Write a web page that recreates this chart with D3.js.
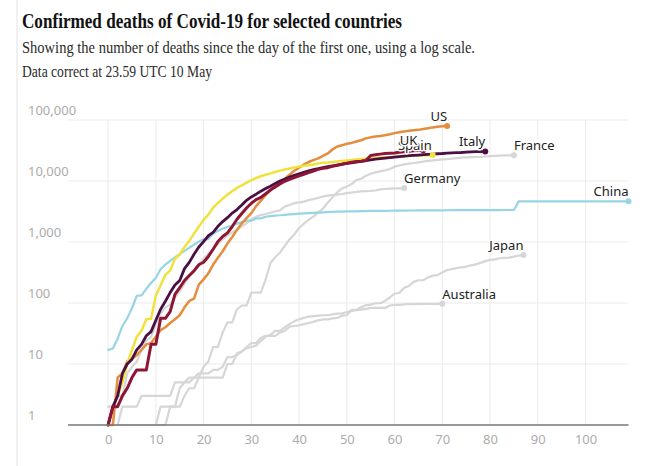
<!DOCTYPE html>
<html><head><meta charset="utf-8">
<script src="https://cdn.jsdelivr.net/npm/d3@7/dist/d3.min.js"></script>
<style>body{margin:0;background:#fff}svg{display:block}</style>
</head><body>
<svg id="chart" width="672" height="466"></svg>
<script>
// ---- DATA: cumulative deaths per day since the first death ----
const franceDeaths = [1,1,1,1,1,1,1,1,1,1,1,2,2,2,2,
  2,3,4,4,6,9,11,19,19,33,48,48,79,91,91,148,148,148,243,450,562,674,860,1100,1331,1696,1995,2314,2606,3024,3523,
  4403,5387,6507,7560,8078,8911,10328,10869,12210,13197,13832,14393,14967,15729,17167,17920,18681,19323,19718,20265,20796,21340,21856,22245,22614,22856,23293,23660,24087,24376,
  24594,24760,24895,25201,25531,25809,25987,26230,26310,26380];
const germanyDeaths = [2,2,3,3,7,9,11,17,24,28,44,67,84,94,123,157,206,267,342,433,533,645,775,
  920,1107,1275,1444,1584,1810,2016,2349,2607,2767,2871,3022,3194,3294,3804,4052,4352,4459,4586,4862,5033,5279,5575,5760,5877,5976,6126,6314,6467,6623,
  6736,6812,6866,6993,7275,7392,7510,7549,7569,7661];
const japanDeaths = [1,1,1,1,1,1,1,1,1,1,1,1,1,2,2,4,5,
  5,6,6,6,6,6,6,6,10,10,15,16,19,22,22,27,29,29,29,33,35,41,42,43,45,47,49,52,54,54,56,
  57,62,63,77,77,85,92,94,99,99,108,123,143,146,178,190,222,236,236,263,281,287,317,348,360,372,385,395,415,430,
  455,486,510,520,541,551,556,576,600,613];
const australiaDeaths = [1,1,1,2,2,2,2,3,3,3,3,3,3,3,5,5,5,6,6,7,7,7,8,8,9,13,13,14,16,18,19,
  20,24,28,30,35,35,40,45,50,54,57,60,61,62,63,63,65,67,67,71,74,76,78,80,83,83,83,83,91,93,
  93,95,96,96,97,97,97,97,97,97];
const chinaDeaths = [17,18,26,42,56,82,131,133,171,213,
  259,361,425,490,562,632,717,804,904,1011,1111,1116,1368,1520,1662,1765,1863,2002,2114,2236,2236,2441,2443,2593,2663,2715,2744,2788,2835,
  2870,2912,2943,2981,3013,3042,3070,3097,3120,3136,3158,3169,3176,3189,3199,3213,3226,3237,3245,3249,3253,3259,3274,3274,3281,3285,3291,3296,3299,3304,3308,
  3309,3316,3322,3326,3330,3331,3333,3335,3336,3339,3340,3343,3343,3345,3346,3346,4636,4636,4636,4636,4636,4636,4636,4636,4637,4637,4637,4637,4637,4637,
  4637,4637,4637,4637,4637,4637,4637,4637,4637,4637];
const usDeaths = [1,1,6,7,11,12,14,17,21,22,28,36,40,47,54,63,85,108,118,200,244,307,427,552,706,942,1209,1581,2026,2467,2978,3873,
  4757,5926,7087,8407,9619,10783,12722,14695,16478,18586,20463,22020,23529,25832,28325,32916,36773,38664,40661,42094,44444,46622,49954,51949,53755,54881,56259,58355,60967,62996,
  64943,66369,67682,68922,71064,73455,75662,77180,78795,79526];
const spainDeaths = [1,2,3,5,10,17,28,35,54,55,133,195,289,342,533,623,830,1043,1375,1772,2311,2808,3647,4365,5138,5982,6803,7716,8464,
  9387,10348,11198,11947,12641,13341,14045,14792,15447,16081,16606,17209,17756,18056,18708,19315,20002,20043,20453,20852,21282,21717,22157,22524,22902,23190,23521,23822,24275,24543,
  24543,25100,25264,25428,25613,25857,26070,26299,26478,26621];
const italyDeaths = [1,2,3,7,10,12,17,21,29,
  34,52,79,107,148,197,233,366,463,631,827,1016,1266,1441,1809,2158,2503,2978,3405,4032,4825,5476,6077,6820,7503,8215,9134,10023,10779,11591,12428,
  13155,13915,14681,15362,15887,16523,17127,17669,18279,18849,19468,19899,20465,21067,21645,22170,22745,23227,23660,24114,24648,25085,25549,25969,26384,26644,26977,27359,27682,27967,
  28236,28710,28884,29079,29315,29684,29958,30201,30395,30560];
const ukDeaths = [1,2,2,3,4,6,8,8,8,21,21,56,56,72,138,178,234,282,336,423,466,580,761,1021,1231,1411,1793,
  2357,2926,3611,4320,4943,5385,6171,7111,7993,8974,9892,10629,11347,12129,12894,13759,14607,15498,16095,16550,17378,18151,18791,19567,20381,20794,21160,21745,26166,26842,
  27583,28205,28520,28809,29501,30150,30689,31316,31662,31930];

const countryNames = ["France","Germany","Japan","Australia","China","US","Spain","Italy","UK"];
const countryValues = [franceDeaths,germanyDeaths,japanDeaths,australiaDeaths,chinaDeaths,usDeaths,spainDeaths,italyDeaths,ukDeaths];

const xTickValues = [0,10,20,30,40,50,60,70,80,90,100];
const yTickValues = [1,10,100,1000,10000,100000];
const yTickLabels = ["1","10","100","1,000","10,000","100,000"];

const titleText = "Confirmed deaths of Covid-19 for selected countries";
const subtitleLines = ["Showing the number of deaths since the day of the first one, using a log scale.",
                       "Data correct at 23.59 UTC 10 May"];

// ---- STYLE ----
const styles = {
  France:   {color:"#d6d6d6", width:2.2, anchor:"start", dx:0},
  Germany:  {color:"#d6d6d6", width:2.2, anchor:"start", dx:0},
  Japan:    {color:"#d6d6d6", width:2.2, anchor:"end",   dx:0},
  Australia:{color:"#d6d6d6", width:2.2, anchor:"start", dx:0},
  China:    {color:"#97d4e4", width:2.2, anchor:"end",   dx:0},
  US:       {color:"#e38d3d", width:2.5, anchor:"end",   dx:0},
  Spain:    {color:"#f0e23c", width:2.5, anchor:"end",   dx:-1},
  Italy:    {color:"#4b0f43", width:2.8, anchor:"end",   dx:0},
  UK:       {color:"#8d1636", width:3,   anchor:"end",   dx:-6}
};

const svg = d3.select("#chart");
svg.append("rect").attr("width",672).attr("height",466).attr("fill","#fff");

// left border rule
svg.append("line").attr("x1",17).attr("x2",17).attr("y1",0).attr("y2",466)
  .attr("stroke","#e2e2e2").attr("stroke-width",1);

// title & subtitle
svg.append("text").attr("x",22).attr("y",27.5).text(titleText)
  .attr("font-family","'Liberation Serif', serif").attr("font-weight","bold")
  .attr("font-size",21).attr("fill","#121212")
  .attr("textLength",380).attr("lengthAdjust","spacingAndGlyphs");
svg.append("text").attr("x",22).attr("y",53).text(subtitleLines[0])
  .attr("font-family","'Liberation Serif', serif").attr("font-size",17).attr("fill","#2a2a2a")
  .attr("textLength",453).attr("lengthAdjust","spacingAndGlyphs");
svg.append("text").attr("x",22).attr("y",76.5).text(subtitleLines[1])
  .attr("font-family","'Liberation Serif', serif").attr("font-size",17).attr("fill","#2a2a2a")
  .attr("textLength",190).attr("lengthAdjust","spacingAndGlyphs");

// scales
const x = d3.scaleLinear().domain([-8.4, 109]).range([68, 628.5]);
const y = d3.scaleLog().domain([1, 100000]).range([425, 120]);

// grid
const grid = svg.append("g");
grid.selectAll("line.v").data(xTickValues).join("line")
  .attr("x1",d=>x(d)).attr("x2",d=>x(d)).attr("y1",y(100000)).attr("y2",y(1))
  .attr("stroke","#ebebeb").attr("stroke-width",1);
grid.selectAll("line.h").data(yTickValues.slice(1)).join("line")
  .attr("x1",x.range()[0]).attr("x2",x.range()[1]).attr("y1",d=>y(d)).attr("y2",d=>y(d))
  .attr("stroke","#ebebeb").attr("stroke-width",1);

// y labels
svg.append("g").selectAll("text").data(yTickValues).join("text")
  .attr("x",28).attr("y",d=>y(d)-5)
  .text((d,i)=>yTickLabels[i])
  .attr("font-family","'Noto Sans', sans-serif").attr("font-size",13).attr("fill","#acacac");

// x axis
const xAxis = svg.append("g").attr("transform","translate(0,425)")
  .call(d3.axisBottom(x).tickValues(xTickValues).tickSize(0).tickPadding(9.3).tickFormat(d3.format("d")));
xAxis.select(".domain").remove();
xAxis.selectAll("text").attr("font-family","'Noto Sans', sans-serif").attr("font-size",13).attr("fill","#acacac");

// lines
const line = d3.line().x((d,i)=>x(i)).y(d=>y(Math.max(1,d)));
const series = countryNames.map((n,i)=>({name:n, values:countryValues[i]}));

const lines = svg.append("g");
series.forEach(s=>{
  const st = styles[s.name];
  lines.append("path").datum(s.values).attr("d",line)
    .attr("fill","none").attr("stroke",st.color).attr("stroke-width",st.width)
    .attr("stroke-linejoin","round").attr("stroke-linecap","round");
});

// axis line on top
svg.append("line").attr("x1",x.range()[0]).attr("x2",x.range()[1]).attr("y1",y(1)).attr("y2",y(1))
  .attr("stroke","#777").attr("stroke-width",1.5);

// end dots
series.forEach(s=>{
  const st = styles[s.name];
  const last = s.values.length-1;
  lines.append("circle").attr("cx",x(last)).attr("cy",y(s.values[last])).attr("r",3)
    .attr("fill",st.color);
});

// labels (UK sits over Spain, as in the original)
const labels = svg.append("g");
series.forEach(s=>{
  const st = styles[s.name];
  const last = s.values.length-1;
  labels.append("text").attr("x",x(last)+st.dx).attr("y",y(s.values[last])-5)
    .attr("text-anchor",st.anchor).text(s.name)
    .attr("font-family","'Noto Sans', sans-serif").attr("font-size",13).attr("fill","#222")
    .attr("stroke","#fff").attr("stroke-width",3).attr("paint-order","stroke")
    .attr("stroke-linejoin","round");
});
</script>
</body></html>
